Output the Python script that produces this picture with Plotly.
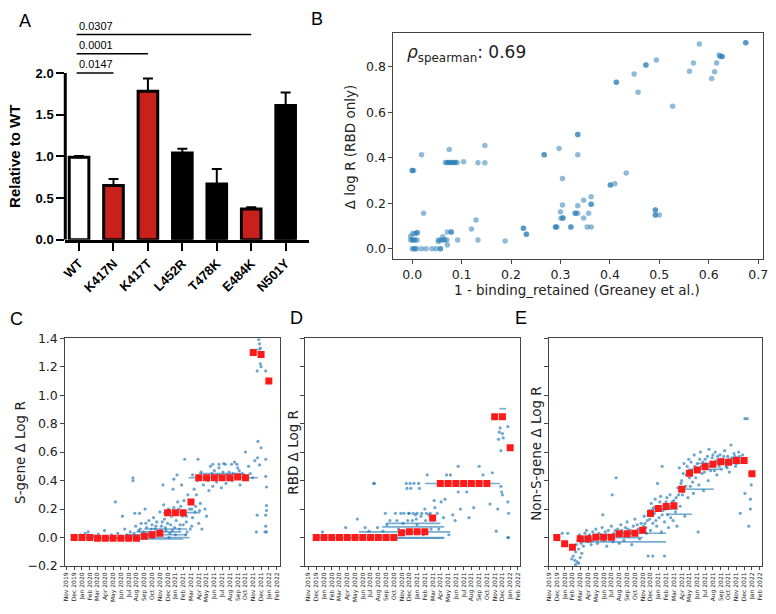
import plotly.graph_objects as go

W, H = 776, 614

# ---------------- Panel A data ----------------
variants = ["WT", "K417N", "K417T", "L452R", "T478K", "E484K", "N501Y"]
relative_to_wt = [0.99, 0.65, 1.78, 1.04, 0.67, 0.37, 1.61]
relative_err = [0.015, 0.08, 0.155, 0.05, 0.18, 0.02, 0.155]
bar_colors = ["white", "#c8201a", "#c8201a", "black", "black", "#c8201a", "black"]
sig_compared = [1, 2, 5]
sig_pvalues = ["0.0147", "0.0001", "0.0307"]

# ---------------- Panel B data ----------------
b_points = [
    (0.675, 0.906), (0.675, 0.906), (0.581, 0.901), (0.623, 0.846), (0.627, 0.846), (0.627, 0.846),
    (0.621, 0.853), (0.616, 0.817), (0.612, 0.779), (0.606, 0.749), (0.569, 0.817), (0.561, 0.781),
    (0.494, 0.831), (0.473, 0.809), (0.473, 0.809), (0.449, 0.769), (0.457, 0.689), (0.413, 0.733),
    (0.413, 0.733), (0.527, 0.627),
    (0.335, 0.503), (0.335, 0.503), (0.297, 0.441), (0.335, 0.414), (0.267, 0.414), (0.267, 0.414),
    (0.304, 0.309), (0.433, 0.334), (0.401, 0.281), (0.401, 0.281), (0.410, 0.286),
    (0.019, 0.414), (0.075, 0.437), (0.147, 0.454), (0.0, 0.344), (0.0, 0.344), (0.003, 0.344),
    (0.067, 0.38), (0.070, 0.38), (0.073, 0.38), (0.076, 0.38), (0.079, 0.38), (0.082, 0.38),
    (0.085, 0.38), (0.087, 0.38), (0.091, 0.38), (0.104, 0.383), (0.133, 0.379), (0.147, 0.379),
    (0.023, 0.157), (0.129, 0.127), (0.120, 0.087), (0.071, 0.074), (0.079, 0.074), (0.079, 0.074),
    (0.092, 0.039), (0.133, 0.039), (0.188, 0.034),
    (0.0, 0.0), (0.003, 0.0), (0.006, 0.0), (0.009, 0.0), (0.019, 0.0), (0.028, 0.0), (0.040, 0.0),
    (0.048, 0.0), (0.057, 0.0), (0.057, 0.0),
    (-0.003, 0.039), (0.0, 0.039), (0.003, 0.039), (0.006, 0.039), (0.010, 0.039), (0.001, 0.067),
    (0.006, 0.067), (0.010, 0.071), (0.010, 0.071), (-0.003, 0.055),
    (0.053, 0.039), (0.058, 0.039), (0.062, 0.039), (0.066, 0.039), (0.070, 0.039), (0.062, 0.053),
    (0.071, 0.017), (0.053, 0.032),
    (0.225, 0.091), (0.225, 0.091), (0.231, 0.064), (0.231, 0.064), (0.290, 0.096), (0.290, 0.096),
    (0.293, 0.096), (0.321, 0.096), (0.321, 0.096), (0.301, 0.134), (0.305, 0.136), (0.305, 0.136),
    (0.300, 0.163), (0.304, 0.193), (0.330, 0.157), (0.330, 0.157), (0.335, 0.157), (0.335, 0.189),
    (0.347, 0.136), (0.347, 0.214), (0.357, 0.157), (0.362, 0.196), (0.362, 0.196), (0.362, 0.229),
    (0.354, 0.096), (0.362, 0.096),
    (0.492, 0.171), (0.492, 0.171), (0.492, 0.149), (0.492, 0.149), (0.500, 0.149),
]
rho_spearman = "0.69"

# ---------------- Panels C/D/E data (x = month index, 0 = Nov 2019) ----------------
month_labels = ["Nov 2019", "Dec 2019", "Jan 2020", "Feb 2020", "Mar 2020", "Apr 2020", "May 2020",
                "Jun 2020", "Jul 2020", "Aug 2020", "Sep 2020", "Oct 2020", "Nov 2020", "Dec 2020",
                "Jan 2021", "Feb 2021", "Mar 2021", "Apr 2021", "May 2021", "Jun 2021", "Jul 2021",
                "Aug 2021", "Sep 2021", "Oct 2021", "Nov 2021", "Dec 2021", "Jan 2022", "Feb 2022"]
month_means_index = list(range(1, 27))

s_gene_means = [0, 0, 0, -0.005, -0.005, -0.005, -0.005, -0.005, -0.005, 0.01, 0.02, 0.03,
                0.175, 0.175, 0.175, 0.25, 0.42, 0.42, 0.42, 0.42, 0.42, 0.425, 0.42, 1.30, 1.285, 1.10]
rbd_means = [0, 0, 0, 0, 0, 0, 0, 0, 0, 0, 0, 0.034, 0.041, 0.041, 0.041, 0.137,
             0.38, 0.38, 0.38, 0.38, 0.38, 0.38, 0.38, 0.848, 0.848, 0.631]
non_s_means = [0, -0.043, -0.068, -0.009, -0.009, 0.002, 0.002, 0.002, 0.027, 0.027, 0.03, 0.052,
               0.169, 0.205, 0.219, 0.223, 0.34, 0.451, 0.474, 0.497, 0.515, 0.533, 0.529,
               0.542, 0.542, 0.449]

# dense horizontal streaks of sequences: (start month, end month, value)
s_gene_streaks = [(2.4, 15.8, 0.0), (3.5, 15.0, -0.01), (7.5, 15.5, 0.02), (9.0, 14.8, 0.04),
                  (10.0, 15.5, 0.06), (12.4, 17.2, 0.175), (15.7, 24.6, 0.42),
                  (17.0, 22.5, 0.45), (24.3, 25.0, 1.32)]
s_gene_points = [
    (1.8, 0.02), (2.4, 0.03), (2.8, 0.04), (3.5, 0.01), (4.1, 0.025), (4.9, 0.05), (5.3, 0.0),
    (5.8, 0.02), (6.3, 0.25), (6.6, 0.03), (7.0, 0.01), (7.2, 0.15), (7.5, 0.06), (7.8, 0.02),
    (8.2, 0.04), (8.55, 0.42), (8.55, 0.40), (8.8, 0.17), (8.9, 0.08), (9.4, 0.17), (9.3, 0.05),
    (9.6, 0.10), (9.8, 0.02), (10.1, 0.20), (10.3, 0.07), (10.6, 0.12), (10.8, 0.03), (11.0, 0.09),
    (11.2, 0.14), (11.4, 0.06), (11.6, 0.11), (11.9, 0.04), (12.0, 0.18), (12.2, 0.08), (12.4, 0.37),
    (12.5, 0.23), (12.6, 0.13), (12.8, 0.05), (13.0, 0.10), (13.1, 0.20), (13.3, 0.03), (13.5, 0.15),
    (13.7, 0.34), (13.8, 0.41), (13.9, 0.07), (14.1, 0.12), (14.2, 0.44), (14.3, 0.25), (14.4, 0.20),
    (14.6, 0.09), (14.8, 0.37), (14.9, 0.15), (15.1, 0.26), (15.2, 0.55), (15.3, 0.02), (15.4, 0.11),
    (15.6, 0.30), (15.8, 0.20), (15.9, 0.06), (16.0, 0.25), (16.2, 0.14), (16.4, 0.34), (16.5, 0.18),
    (16.7, 0.30), (16.9, 0.55), (17.0, 0.10), (17.2, 0.24), (17.4, 0.06), (17.6, 0.37), (17.8, 0.20),
    (18.0, 0.15), (18.3, 0.33), (18.5, 0.50), (18.8, 0.36), (19.0, 0.47), (19.3, 0.39), (19.6, 0.49),
    (19.9, 0.35), (20.2, 0.52), (20.5, 0.38), (20.9, 0.46), (21.3, 0.40), (21.6, 0.53), (22.0, 0.49),
    (22.3, 0.37), (22.6, 0.45), (23.0, 0.60), (23.4, 0.50), (23.9, 0.42), (24.2, 0.54), (24.5, 1.17),
    (24.6, 0.675), (25.0, 0.63), (24.55, 0.56), (24.8, 0.51), (24.7, 1.39), (24.8, 1.36), (24.9, 1.33),
    (24.75, 1.30), (24.85, 1.27), (24.9, 1.22), (25.0, 1.20), (25.6, 1.17), (25.6, 0.43), (25.7, 0.225),
    (25.6, 0.08), (25.5, 0.04), (25.7, 0.04), (24.4, 0.04), (25.7, 0.355), (25.7, 0.19), (25.6, 0.157),
    (24.5, 0.157), (25.6, 0.55),
    (8.3, 0.01), (8.7, 0.03), (9.1, 0.0), (9.5, 0.06), (9.9, 0.04), (10.2, 0.10), (10.5, 0.02),
    (10.9, 0.06), (11.1, 0.0), (11.5, 0.08), (11.8, 0.02), (12.1, 0.05), (12.3, 0.11), (12.7, 0.07),
    (13.2, 0.0), (13.4, 0.09), (13.6, 0.05), (14.0, 0.02), (14.5, 0.06), (15.0, 0.09), (15.5, 0.04),
    (16.1, 0.08), (12.9, 0.16), (13.2, 0.19), (13.8, 0.21), (14.1, 0.17), (14.7, 0.22), (15.0, 0.18),
    (15.4, 0.15), (16.1, 0.20), (16.6, 0.22), (17.1, 0.19), (16.2, 0.44), (16.8, 0.40), (17.3, 0.46),
    (17.9, 0.43), (18.2, 0.40), (18.7, 0.45), (19.1, 0.43), (19.5, 0.44), (19.8, 0.41), (20.1, 0.46),
    (20.6, 0.44), (21.0, 0.42), (21.4, 0.45), (21.8, 0.43), (22.2, 0.47), (22.8, 0.44), (23.2, 0.43),
    (23.6, 0.45), (18.8, 0.515), (19.6, 0.515), (20.4, 0.515), (21.2, 0.515), (21.9, 0.515),
]

rbd_streaks = [(1.0, 17.5, 0.0), (11.0, 17.5, -0.005), (6.5, 18.3, 0.04), (9.5, 17.5, 0.075),
               (10.0, 17.0, 0.10), (15.0, 24.7, 0.38), (24.6, 25.5, 0.905)]
rbd_points = [
    (1.8, 0.04), (4.8, 0.07), (6.3, 0.13), (7.3, 0.07), (7.8, 0.045), (8.4, 0.38), (8.5, 0.38),
    (8.9, 0.07), (9.6, 0.045), (9.9, 0.17), (10.1, 0.09), (10.5, 0.12), (11.2, 0.17), (11.6, 0.06),
    (11.9, 0.17), (12.2, 0.10), (12.6, 0.38), (12.7, 0.345), (12.9, 0.17), (13.1, 0.38), (13.2, 0.345),
    (13.4, 0.12), (13.6, 0.38), (13.8, 0.16), (14.0, 0.09), (14.2, 0.38), (14.3, 0.345), (14.5, 0.15),
    (14.8, 0.02), (15.0, 0.20), (15.3, 0.44), (15.5, 0.16), (15.8, 0.06), (16.2, 0.26), (16.3, 0.21),
    (16.6, 0.17), (16.8, 0.06), (17.1, 0.25), (17.4, 0.14), (17.6, 0.27), (17.8, 0.44), (18.1, 0.02),
    (18.3, 0.44), (18.6, 0.16), (18.9, 0.12), (19.3, 0.50), (19.3, 0.32), (19.6, 0.20), (20.4, 0.32),
    (20.7, 0.14), (21.3, 0.21), (22.0, 0.50), (22.5, 0.44), (23.4, 0.235), (23.7, 0.455), (24.2, 0.045),
    (24.5, 0.69), (24.6, 0.74), (24.7, 0.77), (24.8, 0.61), (24.8, 0.36), (24.9, 0.32), (25.0, 0.30),
    (25.0, 0.73), (25.1, 0.70), (25.7, 0.78), (25.8, 0.17), (25.7, 0.0), (25.8, 0.0), (24.4, 0.20),
    (25.7, 0.25), (12.3, 0.17), (13.0, 0.17), (13.5, 0.17), (14.0, 0.17), (14.6, 0.17), (15.2, 0.17),
    (15.7, 0.17), (11.4, 0.12), (12.8, 0.12), (13.9, 0.13), (15.1, 0.12), (16.0, 0.12),
]

non_s_streaks = [(4.0, 15.0, -0.03), (4.5, 12.0, 0.0), (9.3, 15.0, 0.03), (13.0, 16.5, 0.20),
                 (15.0, 18.3, 0.164), (17.3, 21.1, 0.34), (17.8, 22.0, 0.48), (19.0, 24.5, 0.52)]
non_s_points = [
    (1.7, 0.03), (2.4, 0.03), (2.9, -0.15), (3.1, -0.13), (3.3, -0.16), (3.4, -0.10), (3.4, -0.19),
    (3.5, -0.05), (3.6, -0.17), (3.7, -0.02), (3.8, -0.08), (3.8, -0.18), (3.9, 0.02), (4.0, -0.14),
    (4.1, -0.04), (4.2, -0.11), (4.3, 0.0), (4.4, -0.06), (4.5, -0.02), (4.6, 0.03),
    (4.8, 0.05), (5.0, -0.03), (5.2, 0.02), (5.4, -0.05), (5.6, 0.04), (5.8, -0.01), (6.0, 0.06),
    (6.2, -0.04), (6.4, 0.03), (6.6, 0.0), (6.8, 0.07), (6.9, 0.16), (7.0, -0.02), (7.2, 0.04),
    (7.4, -0.06), (7.6, 0.05), (7.8, 0.01), (8.0, 0.08), (8.1, 0.30), (8.2, -0.03), (8.6, 0.42),
    (8.6, 0.02), (8.8, 0.06), (9.0, -0.04), (9.2, 0.09), (9.4, 0.03), (9.6, -0.02), (9.8, 0.07),
    (10.0, 0.11), (10.2, 0.01), (10.4, 0.05), (10.6, -0.05), (10.8, 0.08), (11.0, 0.13), (11.2, 0.03),
    (11.4, 0.06), (11.6, -0.01), (11.8, 0.10), (12.0, 0.04), (12.2, 0.15), (12.4, 0.07), (12.6, 0.12),
    (12.7, -0.13), (12.8, 0.19), (13.0, 0.05), (13.1, 0.24), (13.3, 0.10), (13.3, -0.13), (13.5, 0.17),
    (13.6, 0.27), (13.8, 0.08), (13.9, 0.38), (14.0, 0.22), (14.1, 0.14), (14.3, 0.29), (14.4, 0.04),
    (14.5, 0.50), (14.6, 0.19), (14.8, -0.13), (14.8, 0.11), (15.0, 0.25), (15.2, 0.16), (15.3, 0.07),
    (15.5, 0.30), (15.7, 0.21), (15.9, 0.12), (16.0, 0.26), (16.2, 0.18), (16.4, 0.08), (16.5, 0.35),
    (16.7, 0.49), (16.8, 0.22), (17.0, 0.40), (17.1, 0.30), (17.3, 0.52), (17.4, 0.15), (17.6, 0.44),
    (17.8, 0.28), (17.9, 0.55), (18.1, 0.36), (18.3, 0.47), (18.5, 0.31), (18.6, 0.58), (18.8, 0.42),
    (19.0, 0.52), (19.1, 0.04), (19.2, 0.37), (19.4, 0.60), (19.6, 0.45), (19.8, 0.33), (20.0, 0.55),
    (20.2, 0.49), (20.4, 0.40), (20.5, 0.62), (20.7, 0.47), (20.9, 0.56), (21.1, 0.51), (21.3, 0.60),
    (21.5, 0.44), (21.7, 0.53), (21.9, 0.58), (22.1, 0.48), (22.3, 0.55), (22.5, 0.61), (22.7, 0.50),
    (22.9, 0.57), (23.1, 0.46), (23.3, 0.65), (23.5, 0.55), (23.7, 0.59), (23.9, 0.50), (24.1, 0.56),
    (24.3, 0.60), (24.5, 0.17), (24.6, 0.53), (24.8, 0.58), (25.1, 0.31), (25.1, 0.835), (25.4, 0.835),
    (25.6, 0.08), (25.8, 0.20), (25.8, 0.27), (25.7, 0.45), (25.9, 0.37),
    (4.2, -0.02), (4.7, 0.0), (5.1, 0.01), (5.5, -0.02), (5.9, 0.02), (6.3, -0.01), (6.7, 0.02),
    (7.1, 0.0), (7.5, 0.02), (7.9, -0.01), (8.3, 0.03), (8.5, 0.05), (8.9, 0.02), (9.3, 0.05),
    (9.7, 0.01), (10.1, 0.06), (10.5, 0.03), (10.9, 0.02), (11.3, 0.09), (11.7, 0.05), (12.1, 0.08),
    (12.5, 0.03), (12.3, 0.10), (12.9, 0.13), (13.2, 0.17), (13.4, 0.21), (13.7, 0.12), (14.2, 0.25),
    (14.5, 0.16), (14.9, 0.20), (15.1, 0.28), (15.4, 0.22), (15.6, 0.14), (15.8, 0.25), (16.1, 0.22),
    (16.3, 0.28), (16.6, 0.30), (16.9, 0.38), (17.2, 0.45), (17.5, 0.36), (17.7, 0.50), (18.0, 0.42),
    (18.2, 0.53), (18.4, 0.39), (18.7, 0.50), (18.9, 0.47), (19.3, 0.55), (19.5, 0.50), (19.7, 0.53),
    (19.9, 0.46), (20.1, 0.52), (20.3, 0.57), (20.6, 0.50), (20.8, 0.53), (21.0, 0.58), (21.2, 0.47),
    (21.4, 0.54), (21.6, 0.57), (21.8, 0.50), (22.0, 0.55), (22.2, 0.52), (22.4, 0.57), (22.6, 0.53),
    (22.8, 0.49), (23.0, 0.55), (23.2, 0.52), (23.4, 0.56), (23.6, 0.53), (23.8, 0.57), (24.0, 0.52),
    (24.2, 0.55), (24.4, 0.57), (24.7, 0.55),
]

# ---------------- figure ----------------
BLUE = "#1f77b4"
RED_SQ = "#ff1a1a"
MPL_FONT = "DejaVu Sans"
ARIAL = "Liberation Sans"


def px_x(p):
    return p / W


def px_y(p):
    return 1 - p / H


fig = go.Figure()

# Panel A bars
xs = list(range(len(variants)))
fig.add_trace(go.Bar(
    x=xs, y=relative_to_wt, width=0.57,
    marker=dict(color=bar_colors, line=dict(color="black", width=3)),
    error_y=dict(type="data", symmetric=False, array=relative_err,
                 arrayminus=[0] * len(relative_err), color="black", thickness=2, width=5),
    xaxis="x", yaxis="y", showlegend=False,
))

# Panel B
fig.add_trace(go.Scatter(
    x=[p[0] for p in b_points], y=[p[1] for p in b_points], mode="markers",
    marker=dict(color=BLUE, size=5.5, opacity=0.5, line=dict(width=0)),
    xaxis="x2", yaxis="y2", showlegend=False,
))


def add_time_panel(streaks, points, means, xa, ya):
    for (m0, m1, v) in streaks:
        fig.add_trace(go.Scatter(x=[m0, m1], y=[v, v], mode="lines",
                                 line=dict(color=BLUE, width=1.6), opacity=0.6,
                                 xaxis=xa, yaxis=ya, showlegend=False, hoverinfo="skip"))
    fig.add_trace(go.Scatter(
        x=[p[0] for p in points], y=[p[1] for p in points], mode="markers",
        marker=dict(color=BLUE, size=3.2, opacity=0.65, line=dict(width=0)),
        xaxis=xa, yaxis=ya, showlegend=False))
    fig.add_trace(go.Scatter(
        x=month_means_index, y=means, mode="markers",
        marker=dict(color=RED_SQ, size=7, symbol="square", line=dict(width=0)),
        xaxis=xa, yaxis=ya, showlegend=False))


add_time_panel(s_gene_streaks, s_gene_points, s_gene_means, "x3", "y3")
add_time_panel(rbd_streaks, rbd_points, rbd_means, "x4", "y4")
add_time_panel(non_s_streaks, non_s_points, non_s_means, "x5", "y5")

# ---------------- layout ----------------
frame = dict(showline=True, mirror=True, linecolor="#444", linewidth=1, showgrid=False,
             zeroline=False, ticks="outside", ticklen=4, tickcolor="#444")

month_axis = dict(frame, tickvals=list(range(len(month_labels))), ticktext=month_labels,
                  tickangle=-90, tickfont=dict(family=MPL_FONT, size=6, color="#222"), ticklen=3)
c_ticks = [-0.2, 0.0, 0.2, 0.4, 0.6, 0.8, 1.0, 1.2, 1.4]
c_ticktext = ["\u22120.2", "0.0", "0.2", "0.4", "0.6", "0.8", "1.0", "1.2", "1.4"]

y_ab = [px_y(238), px_y(238 - 2.6 * 85.65)]
y_cde = [px_y(573), px_y(339)]

layout = dict(
    width=W, height=H, margin=dict(l=0, r=0, t=0, b=0),
    paper_bgcolor="white", plot_bgcolor="white",
    font=dict(family=MPL_FONT, color="#222"),
    xaxis=dict(domain=[px_x(62), px_x(309)], range=[-0.4, 6.69], tickvals=xs, ticktext=variants,
               tickangle=-45, showline=True, linecolor="black", linewidth=3, ticks="outside",
               ticklen=8, tickwidth=2, tickcolor="black", showgrid=False, zeroline=False,
               tickfont=dict(family=ARIAL, size=13, color="black", weight="bold"), anchor="y"),
    yaxis=dict(domain=y_ab, range=[0, 2.6], tickvals=[0, 0.5, 1.0, 1.5, 2.0],
               ticktext=["0.0", "0.5", "1.0", "1.5", "2.0"], showline=False, ticks="outside",
               ticklen=8, tickwidth=2, tickcolor="black", showgrid=False, zeroline=False,
               tickfont=dict(family=ARIAL, size=13, color="black", weight="bold"), anchor="x"),
    xaxis2=dict(frame, domain=[px_x(394), px_x(768)], range=[-0.038, 0.71],
                tickvals=[0, 0.1, 0.2, 0.3, 0.4, 0.5, 0.6, 0.7],
                ticktext=["0.0", "0.1", "0.2", "0.3", "0.4", "0.5", "0.6", "0.7"],
                tickfont=dict(family=MPL_FONT, size=12.5, color="#222"), anchor="y2"),
    yaxis2=dict(frame, domain=[px_y(258), px_y(26)], range=[-0.046, 0.948],
                tickvals=[0, 0.2, 0.4, 0.6, 0.8], ticktext=["0.0", "0.2", "0.4", "0.6", "0.8"],
                tickfont=dict(family=MPL_FONT, size=12.5, color="#222"), anchor="x2"),
    xaxis3=dict(month_axis, domain=[px_x(62), px_x(279)], range=[-0.14, 27.4], anchor="y3"),
    yaxis3=dict(frame, domain=y_cde, range=[-0.2, 1.4], tickvals=c_ticks, ticktext=c_ticktext,
                tickfont=dict(family=MPL_FONT, size=12.5, color="#222"), anchor="x3"),
    xaxis4=dict(month_axis, domain=[px_x(305), px_x(522)], range=[-0.39, 27.26], anchor="y4"),
    yaxis4=dict(frame, domain=y_cde, range=[-0.2, 1.4], tickvals=c_ticks, showticklabels=False,
                anchor="x4"),
    xaxis5=dict(month_axis, domain=[px_x(551), px_x(767)], range=[-0.05, 27.3], anchor="y5"),
    yaxis5=dict(frame, domain=y_cde, range=[-0.2, 1.4], tickvals=c_ticks, showticklabels=False,
                anchor="x5"),
)

shapes = [
    # GraphPad-style y axis line stopping at 2.0
    dict(type="line", xref="x domain", yref="y", x0=0, x1=0, y0=0, y1=2.0,
         line=dict(color="black", width=3)),
]
annotations = []
for k, (idx, p) in enumerate(zip(sig_compared, sig_pvalues)):
    level = 2.0 + 0.23 * k
    shapes.append(dict(type="line", xref="x", yref="y", x0=-0.07, x1=idx, y0=level, y1=level,
                       line=dict(color="black", width=1.5)))
    annotations.append(dict(x=-0.07, y=level, xref="x", yref="y", text=p, showarrow=False,
                            xanchor="left", yanchor="bottom", yshift=1,
                            font=dict(family=ARIAL, size=11, color="black")))

# panel letters
for letter, (lx, ly) in {"A": (21, 13), "B": (317, 11), "C": (13, 319), "D": (296, 318),
                         "E": (523, 318)}.items():
    annotations.append(dict(x=px_x(lx), y=px_y(ly), xref="paper", yref="paper", text=letter,
                            showarrow=False, xanchor="center", yanchor="middle",
                            font=dict(family=ARIAL, size=18, color="black")))

# axis titles
titles = [
    dict(x=px_x(10), y=px_y(152), text="<b>Relative to WT</b>", textangle=-90,
         font=dict(family=ARIAL, size=15, color="black")),
    dict(x=px_x(350), y=px_y(142), text="\u0394 log R (RBD only)", textangle=-90,
         font=dict(family=MPL_FONT, size=13.5, color="#222")),
    dict(x=px_x(580), y=px_y(290), text="1 - binding_retained (Greaney et al.)",
         font=dict(family=MPL_FONT, size=13.5, color="#222")),
    dict(x=px_x(16), y=px_y(456), text="S-gene \u0394 Log R", textangle=-90,
         font=dict(family=MPL_FONT, size=13.5, color="#222")),
    dict(x=px_x(293), y=px_y(456), text="RBD \u0394 Log R", textangle=-90,
         font=dict(family=MPL_FONT, size=13.5, color="#222")),
    dict(x=px_x(538), y=px_y(457), text="Non-S-gene \u0394 Log R", textangle=-90,
         font=dict(family=MPL_FONT, size=13.5, color="#222")),
]
for a in titles:
    a.update(xref="paper", yref="paper", showarrow=False, xanchor="center", yanchor="middle")
annotations += titles

annotations.append(dict(x=px_x(406), y=px_y(47), xref="paper", yref="paper", showarrow=False,
                        xanchor="left", yanchor="middle",
                        text="<i>\u03c1</i><sub>spearman</sub>: " + rho_spearman,
                        font=dict(family=MPL_FONT, size=17, color="#222")))

layout["shapes"] = shapes
layout["annotations"] = annotations
fig.update_layout(**layout)

fig.write_html(
    "out.html",
    config={"displayModeBar": False},
    post_script="document.body.style.margin='0';document.body.style.padding='0';"
                "document.body.style.overflow='hidden';",
)
